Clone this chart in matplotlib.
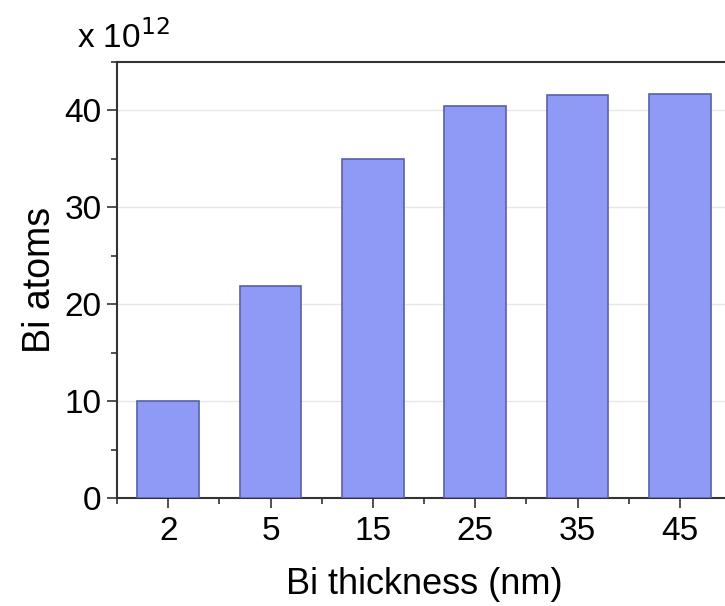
import numpy as np
import matplotlib
matplotlib.use('Agg')
import matplotlib.pyplot as plt
from matplotlib.ticker import MultipleLocator

plt.rcParams['font.family'] = ['Liberation Sans', 'DejaVu Sans']

thickness = ['2', '5', '15', '25', '35', '45']
atoms = [10.0, 21.9, 35.0, 40.5, 41.6, 41.7]   # x 10^12

fig = plt.figure(figsize=(7.25, 6.06), dpi=100)
ax = fig.add_axes([117/725, 108/606, 614/725, 436/606])

x = np.arange(len(thickness))
ax.bar(x, atoms, width=0.6, color='#8f9af6', edgecolor='#5a60a8', linewidth=1.2, zorder=3)

ax.set_xlim(-0.5, 5.5)
ax.set_ylim(0, 45)
ax.set_xticks(x)
ax.set_xticklabels(thickness)
ax.set_xticks(np.arange(-0.5, 5.6, 1), minor=True)
ax.yaxis.set_major_locator(MultipleLocator(10))
ax.yaxis.set_minor_locator(MultipleLocator(5))
ax.yaxis.grid(True, color='#e6e6e6', linewidth=1, zorder=0)

ax.tick_params(which='both', direction='out', labelsize=24, color='#333333')
ax.tick_params(which='major', length=7, width=1.2, pad=4)
ax.tick_params(which='minor', length=4, width=1.2)
ax.tick_params(axis='x', which='major', pad=6)
for s in ax.spines.values():
    s.set_color('#333333')
    s.set_linewidth(1.5)

ax.set_xlabel('Bi thickness (nm)', fontsize=26, labelpad=14)
ax.set_ylabel('Bi atoms', fontsize=27, labelpad=5)
fig.text(77/725, 1 - 48/606, r'x 10$^{12}$', fontsize=24, ha='left', va='baseline')

fig.savefig('out.png', dpi=100)
